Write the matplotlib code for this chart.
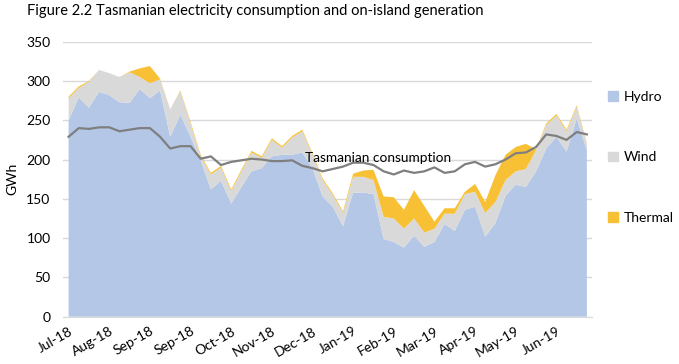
import numpy as np
import matplotlib.pyplot as plt
from matplotlib.patches import Patch

plt.rcParams['font.family'] = ['Lato', 'DejaVu Sans']

# weekly values, GWh (Jul-18 .. Jun-19)
hydro = [250, 279, 266, 286, 282, 273, 272, 290, 278, 288, 229, 257, 229,
         199, 162, 173, 144, 165, 185, 189, 204, 206, 206, 209, 189, 153,
         140, 115, 158, 158, 156, 99, 95, 88, 103, 89, 95, 118, 109,
         136, 140, 102, 119, 154, 168, 165, 185, 214, 229, 210, 252, 212]
wind = [28, 12, 33, 28, 28, 32, 39, 15, 19, 14, 35, 30, 17,
        5, 19, 17, 16, 20, 24, 13, 21, 9, 22, 27, 17, 21,
        15, 17, 20, 20, 18, 28, 30, 24, 22, 18, 17, 13, 22,
        20, 19, 30, 27, 20, 17, 23, 27, 30, 27, 26, 15, 8]
thermal = [2, 2, 1, 0, 0, 0, 1, 11, 22, 1, 0, 1, 2,
           2, 2, 2, 2, 2, 2, 2, 2, 2, 2, 2, 2, 2,
           2, 2, 4, 8, 13, 26, 27, 24, 36, 34, 9, 7, 7,
           3, 10, 14, 34, 32, 31, 32, 1, 2, 2, 2, 2, 1]
consumption = [229, 240, 239, 241, 241, 236, 238, 240, 240, 229, 214, 217, 217,
               201, 204, 193, 197, 199, 201, 200, 198, 198, 199, 192, 189, 185,
               188, 191, 196, 196, 193, 185, 181, 186, 183, 185, 190, 183, 185,
               194, 197, 191, 194, 200, 208, 209, 216, 232, 230, 225, 235, 232]
tick_labels = ['Jul-18', 'Aug-18', 'Sep-18', 'Sep-18', 'Oct-18', 'Nov-18', 'Dec-18',
               'Jan-19', 'Feb-19', 'Mar-19', 'Apr-19', 'May-19', 'Jun-19']

weeks = np.arange(len(hydro))
c_hydro = '#b4c7e7'
c_wind = '#d9d9d9'
c_thermal = '#f8c135'

fig = plt.figure(figsize=(6.79, 3.64), dpi=100)
ax = fig.add_axes([0.0928, 0.130, 0.779, 0.7555])

ax.stackplot(weeks, hydro, wind, thermal,
             colors=[c_hydro, c_wind, c_thermal], linewidth=0)
ax.plot(weeks, consumption, color='#7f7f7f', lw=1.6)
ax.text(23.3, 202, 'Tasmanian consumption', fontsize=9.8, va='center',
        ha='left', color='black')

ax.set_xlim(-0.55, 51.5)
ax.set_ylim(0, 350)
ax.set_yticks(np.arange(0, 351, 50))
ax.grid(axis='y', color='#d9d9d9', lw=1)
ax.set_axisbelow(True)
ax.set_xticks(weeks[::4])
ax.set_xticklabels(tick_labels, rotation=30, ha='right', rotation_mode='anchor')
ax.tick_params(axis='both', length=0, labelsize=10, colors='black')
ax.tick_params(axis='y', pad=9)
ax.tick_params(axis='x', pad=6)
for s in ['top', 'right', 'left']:
    ax.spines[s].set_visible(False)
ax.spines['bottom'].set_color('#d9d9d9')
ax.set_ylabel('GWh', fontsize=10, labelpad=6)

handles = [Patch(color=c_hydro), Patch(color=c_wind), Patch(color=c_thermal)]
fig.legend(handles, ['Hydro', 'Wind', 'Thermal'], loc='upper left',
           bbox_to_anchor=(0.877, 0.785), frameon=False, fontsize=10,
           handlelength=0.7, handleheight=0.7, handletextpad=0.45,
           labelspacing=3.5)

fig.text(0.04, 0.988, 'Figure 2.2 Tasmanian electricity consumption and on-island generation',
         fontsize=10.5, va='top', ha='left')

fig.savefig('out.png', dpi=100)
